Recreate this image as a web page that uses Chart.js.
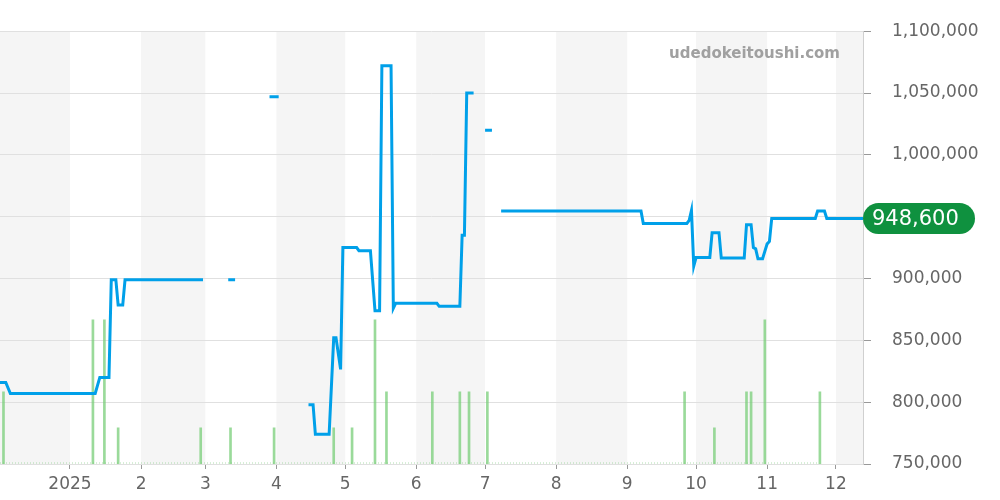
<!DOCTYPE html>
<html>
<head>
<meta charset="utf-8">
<script src="https://cdn.jsdelivr.net/npm/chart.js@4/dist/chart.umd.min.js"></script>
<style>
  body { margin: 0; background: #fff; }
  #wrap { width: 1000px; height: 500px; }
</style>
</head>
<body>
<div id="wrap"><canvas id="Chart"></canvas></div>
<script>
// price history (null = no quote)
const priceDates = [
  '2024-12-01', '2024-12-04', '2024-12-06', '2025-01-12', '2025-01-14', '2025-01-18', '2025-01-19',
  '2025-01-21', '2025-01-22', '2025-01-24', '2025-01-25', '2025-02-28', '2025-03-01',
  '2025-03-11', '2025-03-14', '2025-03-15',
  '2025-03-29', '2025-04-02', '2025-04-03',
  '2025-04-15', '2025-04-17', '2025-04-18', '2025-04-24', '2025-04-26', '2025-04-27', '2025-04-29',
  '2025-04-30', '2025-05-06', '2025-05-07', '2025-05-12', '2025-05-14', '2025-05-16', '2025-05-17',
  '2025-05-21', '2025-05-22', '2025-05-23', '2025-06-10', '2025-06-11', '2025-06-20', '2025-06-21',
  '2025-06-22', '2025-06-23', '2025-06-26', '2025-06-27',
  '2025-07-01', '2025-07-04', '2025-07-05',
  '2025-07-08', '2025-09-07', '2025-09-08', '2025-09-27', '2025-09-28', '2025-09-29', '2025-09-30',
  '2025-10-01', '2025-10-07', '2025-10-08', '2025-10-11', '2025-10-12', '2025-10-22', '2025-10-23',
  '2025-10-25', '2025-10-26', '2025-10-27', '2025-10-28', '2025-10-30', '2025-11-01', '2025-11-02',
  '2025-11-03', '2025-11-22', '2025-11-23', '2025-11-26', '2025-11-27', '2025-12-13'
];
const priceValues = [
  816000, 816000, 807000, 807000, 820000, 820000, 899000,
  899000, 878500, 878500, 899000, 899000, null,
  899000, 899000, null,
  1047000, 1047000, null,
  798000, 798000, 774000, 774000, 852000, 852000, 826500,
  925000, 925000, 922500, 922500, 874000, 874000, 1072000,
  1072000, 876000, 880000, 880000, 877500, 877500, 935000,
  935000, 1050000, 1050000, null,
  1020000, 1020000, null,
  954500, 954500, 944500, 944500, 947000, 955000, 910000,
  917000, 917000, 937000, 937000, 916500, 916500, 943500,
  943500, 925000, 924000, 916000, 916000, 928000, 930000,
  948600, 948600, 954500, 954500, 948600, 948600
];

// trade counts
const volumeDates = [
  '2024-12-03', '2025-01-11', '2025-01-16', '2025-01-22', '2025-02-27', '2025-03-12', '2025-03-31',
  '2025-04-26', '2025-05-04', '2025-05-14', '2025-05-19', '2025-06-08', '2025-06-20', '2025-06-24',
  '2025-07-02', '2025-09-26', '2025-10-09', '2025-10-23', '2025-10-25', '2025-10-31', '2025-11-24'
];
const volumeValues = [2, 4, 4, 1, 1, 1, 1, 1, 1, 4, 2, 2, 2, 2, 2, 2, 1, 2, 2, 4, 2];

const monthStarts = [
  '2024-12-01', '2025-01-01', '2025-02-01', '2025-03-01', '2025-04-01', '2025-05-01', '2025-06-01',
  '2025-07-01', '2025-08-01', '2025-09-01', '2025-10-01', '2025-11-01', '2025-12-01', '2026-01-01'
];
const monthLabels = ['', '2025', '2', '3', '4', '5', '6', '7', '8', '9', '10', '11', '12', ''];

const yTicks = [750000, 800000, 850000, 900000, 950000, 1000000, 1050000, 1100000];
const lastPrice = 948600;

const base = Date.UTC(2024, 11, 1);
function toDay(s) {
  const p = s.split('-');
  return (Date.UTC(+p[0], +p[1] - 1, +p[2]) - base) / 86400000;
}
const monthDays = monthStarts.map(toDay);

// shaded month bands, watermark, last price badge
const decor = {
  id: 'decor',
  beforeDraw(chart) {
    const {ctx, chartArea: a, scales: {x}} = chart;
    ctx.save();
    ctx.fillStyle = '#f5f5f5';
    for (let i = 0; i < monthDays.length - 1; i += 2) {
      const x1 = Math.max(x.getPixelForValue(monthDays[i]), a.left);
      const x2 = Math.min(x.getPixelForValue(monthDays[i + 1]), a.right);
      if (x2 > x1) ctx.fillRect(x1, a.top, x2 - x1, a.bottom - a.top);
    }
    ctx.restore();
  },
  afterDatasetsDraw(chart) {
    const {ctx, chartArea: a} = chart;
    ctx.save();
    ctx.strokeStyle = 'rgba(120,200,120,0.6)';
    ctx.lineWidth = 1;
    ctx.setLineDash([1, 2]);
    ctx.beginPath();
    ctx.moveTo(a.left, a.bottom - 1);
    ctx.lineTo(a.right - 45, a.bottom - 1);
    ctx.stroke();
    ctx.restore();
  },
  afterDraw(chart) {
    const {ctx, chartArea: a, scales: {y}} = chart;
    ctx.save();
    ctx.font = 'bold 15px "DejaVu Sans"';
    ctx.fillStyle = '#a0a0a0';
    ctx.textAlign = 'right';
    ctx.textBaseline = 'alphabetic';
    ctx.fillText('udedokeitoushi.com', 840, 58);

    const py = y.getPixelForValue(lastPrice);
    const w = 112, h = 31, r = 15.5;
    const x0 = a.right;
    ctx.fillStyle = '#0f913f';
    ctx.beginPath();
    ctx.roundRect(x0, py - h / 2, w, h, r);
    ctx.fill();
    ctx.fillStyle = '#fff';
    ctx.font = '21px "DejaVu Sans"';
    ctx.textAlign = 'left';
    ctx.textBaseline = 'middle';
    ctx.fillText(lastPrice.toLocaleString('en-US'), x0 + 9, py + 1);
    ctx.restore();
  }
};

const ctx = document.getElementById('Chart');
new Chart(ctx, {
  data: {
    datasets: [{
      type: 'line',
      label: 'Price',
      data: priceDates.map((d, i) => ({x: toDay(d), y: priceValues[i]})),
      borderColor: '#00a0e9',
      borderWidth: 3,
      pointRadius: 0,
      tension: 0,
      spanGaps: false,
      yAxisID: 'y',
      order: 0
    }, {
      type: 'bar',
      label: 'Volume',
      data: volumeDates.map((d, i) => ({x: toDay(d), y: volumeValues[i]})),
      backgroundColor: 'rgba(120,205,120,0.75)',
      barThickness: 2,
      grouped: false,
      yAxisID: 'yVol',
      order: 1
    }]
  },
  options: {
    responsive: true,
    maintainAspectRatio: false,
    animation: false,
    layout: { padding: { top: 30, right: 20, bottom: 6, left: 0 } },
    plugins: { legend: { display: false }, tooltip: { enabled: false } },
    scales: {
      x: {
        type: 'linear',
        min: 0.48,
        max: 376.8,
        offset: false,
        afterBuildTicks: (scale) => {
          scale.ticks = monthDays.filter(v => v > scale.min && v < scale.max).map(v => ({value: v}));
        },
        afterFit: (scale) => { scale.height = 30; },
        ticks: {
          autoSkip: false,
          maxRotation: 0,
          padding: 5,
          color: '#666',
          font: { family: 'DejaVu Sans', size: 17 },
          callback: (v) => monthLabels[monthDays.indexOf(v)]
        },
        grid: { offset: false, drawOnChartArea: false, drawTicks: true, tickLength: 5, tickColor: '#999' },
        border: { display: false }
      },
      y: {
        position: 'right',
        min: 750000,
        max: 1100000,
        afterBuildTicks: (scale) => { scale.ticks = yTicks.map(v => ({value: v})); },
        afterFit: (scale) => { scale.width = 117; },
        ticks: {
          padding: 21,
          crossAlign: 'near',
          color: '#666',
          font: { family: 'DejaVu Sans', size: 17 },
          callback: (v) => v.toLocaleString('en-US')
        },
        grid: { color: '#e0e0e0', tickLength: 8, tickColor: '#999' },
        border: { display: true, color: '#d0d0d0' }
      },
      yVol: {
        display: false,
        min: 0,
        max: 12
      }
    }
  },
  plugins: [decor]
});
</script>
</body>
</html>
